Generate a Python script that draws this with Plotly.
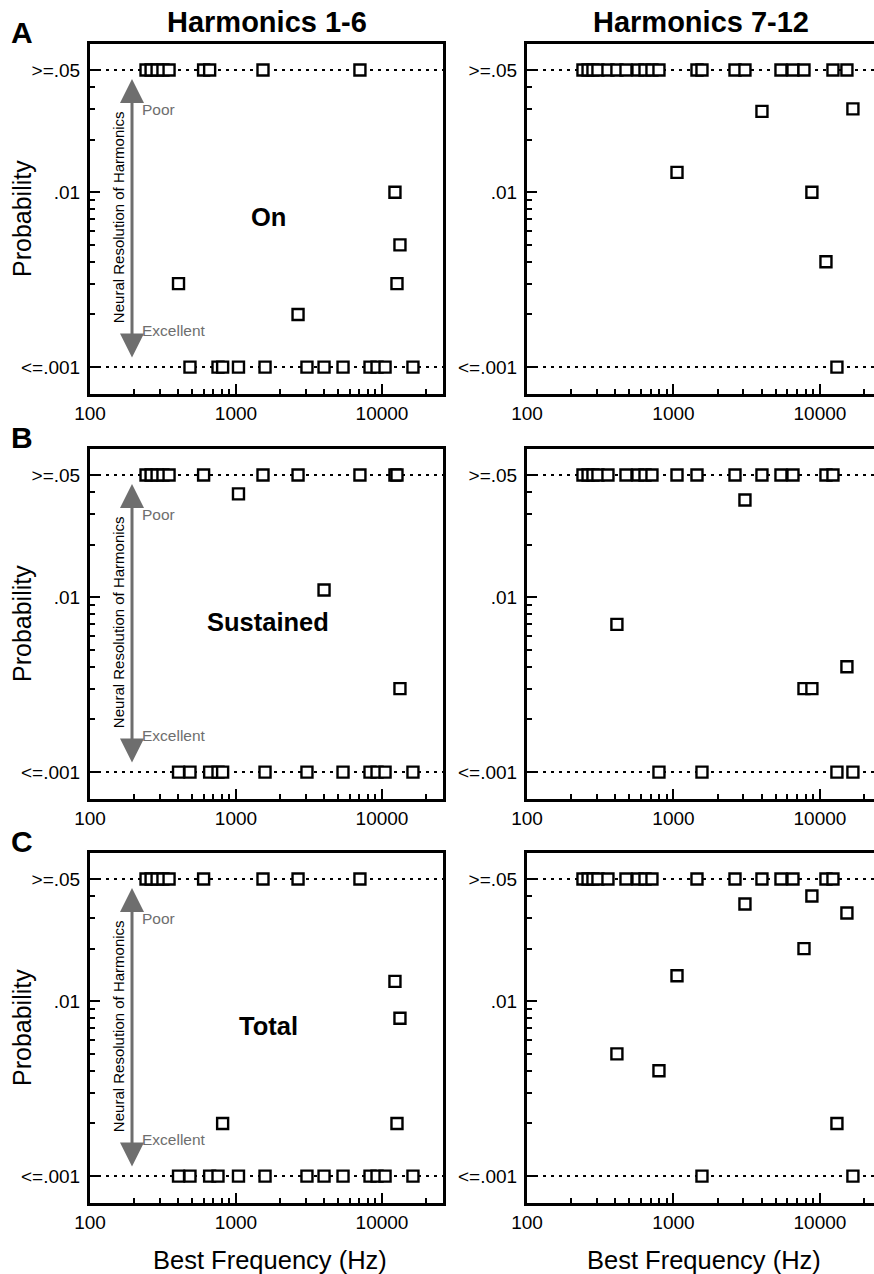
import plotly.graph_objects as go

# ---------------- data ----------------
# Best frequencies (Hz) of the neurons plotted in the "Harmonics 1-6" column
bf_h1_6 = [242, 262, 288, 316, 348, 404, 484, 600, 660, 753, 810, 1040, 1531, 1581,
           2661, 3063, 4010, 5409, 7063, 8279, 9249, 10496, 12270, 12670, 13280, 16300]
on_h1_6 = [.05, .05, .05, .05, .05, .003, .001, .05, .05, .001, .001, .001, .05, .001,
           .002, .001, .001, .001, .05, .001, .001, .001, .01, .003, .005, .001]
sus_h1_6 = [.05, .05, .05, .05, .05, .001, .001, .05, .001, .001, .001, .039, .05, .001,
            .05, .001, .011, .001, .05, .001, .001, .001, .05, .05, .003, .001]
tot_h1_6 = [.05, .05, .05, .05, .05, .001, .001, .05, .001, .001, .002, .001, .05, .001,
            .05, .001, .001, .001, .05, .001, .001, .001, .013, .002, .008, .001]

# Best frequencies (Hz) of the neurons plotted in the "Harmonics 7-12" column
bf_h7_12 = [241, 261, 282, 305, 357, 411, 474, 572, 639, 713, 796, 1057, 1447, 1565,
            2630, 3076, 4018, 5418, 6543, 7780, 8810, 10990, 12270, 13060, 15280, 16790]
on_h7_12 = [.05, .05, .05, .05, .05, .05, .05, .05, .05, .05, .05, .013, .05, .05,
            .05, .05, .029, .05, .05, .05, .01, .004, .05, .001, .05, .030]
sus_h7_12 = [.05, .05, .05, .05, .05, .007, .05, .05, .05, .05, .001, .05, .05, .001,
             .05, .036, .05, .05, .05, .003, .003, .05, .05, .001, .004, .001]
tot_h7_12 = [.05, .05, .05, .05, .05, .005, .05, .05, .05, .05, .004, .014, .05, .001,
             .05, .036, .05, .05, .05, .020, .040, .05, .05, .002, .032, .001]

col_titles = ["Harmonics 1-6", "Harmonics 7-12"]
row_letters = ["A", "B", "C"]
row_labels = ["On", "Sustained", "Total"]
p_levels = [0.05, 0.001]
y_tickvals = [0.05, 0.01, 0.001]
y_ticktext = [">=.05", ".01", "<=.001"]
y_minor = [0.04, 0.03, 0.02, 0.009, 0.008, 0.007, 0.006, 0.005, 0.004, 0.003, 0.002]
x_tickvals = [100, 1000, 10000]
x_ticktext = ["100", "1000", "10000"]
x_minor = [200, 300, 400, 500, 600, 700, 800, 900,
           2000, 3000, 4000, 5000, 6000, 7000, 8000, 9000, 20000]

# ---------------- layout geometry ----------------
W, H = 874, 1274
FONT = "Liberation Sans, Arial, Helvetica, sans-serif"
col_px = [(90, 443), (527, 874)]
row_px = [(44, 394), (449, 799), (853, 1203)]
x_ranges = [[2.0, 4.418], [2.0, 4.369]]
y_range = [-3.154, -1.152]
GRAY = "#6e6e6e"

data = [[(bf_h1_6, on_h1_6), (bf_h7_12, on_h7_12)],
        [(bf_h1_6, sus_h1_6), (bf_h7_12, sus_h7_12)],
        [(bf_h1_6, tot_h1_6), (bf_h7_12, tot_h7_12)]]

fig = go.Figure()
annotations = []
layout_axes = {}

for r in range(3):
    for c in range(2):
        n = r * 2 + c + 1
        xa = "x" if n == 1 else f"x{n}"
        ya = "y" if n == 1 else f"y{n}"
        bf, p = data[r][c]
        xr = x_ranges[c]
        # dotted reference lines at the two probability limits
        for lvl in p_levels:
            fig.add_trace(go.Scatter(
                x=[10 ** xr[0], 10 ** xr[1]], y=[lvl, lvl], mode="lines",
                line=dict(color="black", width=2, dash="3px,5px"),
                xaxis=xa, yaxis=ya, hoverinfo="skip", showlegend=False))
        fig.add_trace(go.Scatter(
            x=bf, y=p, mode="markers",
            marker=dict(symbol="square", size=11, color="white",
                        line=dict(color="black", width=2.4)),
            xaxis=xa, yaxis=ya, showlegend=False))

        x0, x1 = col_px[c]
        y0, y1 = row_px[r]
        layout_axes["xaxis" if n == 1 else f"xaxis{n}"] = dict(
            type="log", range=xr, domain=[x0 / W, x1 / W], anchor=ya,
            automargin=False,
            showline=True, linecolor="black", linewidth=3, mirror=True,
            ticks="inside", ticklen=10, tickwidth=2, tickcolor="black",
            tickmode="array", tickvals=x_tickvals, ticktext=x_ticktext,
            tickfont=dict(size=19, family=FONT, color="black"),
            showgrid=False, zeroline=False,
            minor=dict(tickmode="array", tickvals=x_minor, ticks="inside",
                       ticklen=5, tickwidth=2, tickcolor="black", showgrid=False))
        layout_axes["yaxis" if n == 1 else f"yaxis{n}"] = dict(
            type="log", range=y_range, domain=[1 - y1 / H, 1 - y0 / H], anchor=xa,
            automargin=False,
            showline=True, linecolor="black", linewidth=3, mirror=(c == 0),
            ticks="inside", ticklen=10, tickwidth=2, tickcolor="black",
            tickmode="array", tickvals=y_tickvals, ticktext=y_ticktext,
            tickfont=dict(size=19, family=FONT, color="black"),
            ticklabelstandoff=3,
            showgrid=False, zeroline=False,
            minor=dict(tickmode="array", tickvals=y_minor, ticks="inside",
                       ticklen=5, tickwidth=2, tickcolor="black", showgrid=False))

        if c == 0:
            # Probability axis title
            annotations.append(dict(
                xref="paper", yref=f"{ya} domain", x=22 / W, y=0.5,
                text="Probability", textangle=-90, showarrow=False,
                xanchor="center", yanchor="middle",
                font=dict(size=25, family=FONT, color="black")))
            # panel label (On / Sustained / Total)
            annotations.append(dict(
                xref=f"{xa} domain", yref=f"{ya} domain", x=0.505, y=0.505,
                text=f"<b>{row_labels[r]}</b>", showarrow=False,
                xanchor="center", yanchor="middle",
                font=dict(size=25.5, family=FONT, color="black")))
            # double-headed arrow
            annotations.append(dict(
                xref=f"{xa} domain", yref=f"{ya} domain", x=0.119, y=0.9,
                ax=0, ay=0.8 * (y1 - y0), axref="pixel", ayref="pixel",
                text="", showarrow=True, arrowhead=2, startarrowhead=2,
                arrowside="end+start", arrowsize=1.6, startarrowsize=1.6,
                arrowwidth=3, arrowcolor=GRAY, standoff=0, startstandoff=0))
            annotations.append(dict(
                xref=f"{xa} domain", yref=f"{ya} domain", x=0.079, y=0.505,
                text="Neural Resolution of Harmonics", textangle=-90,
                showarrow=False, xanchor="center", yanchor="middle",
                font=dict(size=15, family=FONT, color="black")))
            annotations.append(dict(
                xref=f"{xa} domain", yref=f"{ya} domain", x=0.141, y=0.812,
                text="Poor", showarrow=False, xanchor="left", yanchor="middle",
                font=dict(size=15.5, family=FONT, color=GRAY)))
            annotations.append(dict(
                xref=f"{xa} domain", yref=f"{ya} domain", x=0.143, y=0.182,
                text="Excellent", showarrow=False, xanchor="left", yanchor="middle",
                font=dict(size=15.5, family=FONT, color=GRAY)))
        if r == 0:
            annotations.append(dict(
                xref=f"{xa} domain", yref="paper", x=0.5, y=1 - 22 / H,
                text=f"<b>{col_titles[c]}</b>", showarrow=False,
                xanchor="center", yanchor="middle",
                font=dict(size=29, family=FONT, color="black")))
        if r == 2:
            annotations.append(dict(
                xref=f"{xa} domain", yref="paper", x=0.51, y=1 - 1260 / H,
                text="Best Frequency (Hz)", showarrow=False,
                xanchor="center", yanchor="middle",
                font=dict(size=25.5, family=FONT, color="black")))
        if c == 0:
            annotations.append(dict(
                xref="paper", yref="paper", x=22 / W,
                y=1 - [32, 437, 841][r] / H,
                text=f"<b>{row_letters[r]}</b>", showarrow=False,
                xanchor="center", yanchor="middle",
                font=dict(size=30, family=FONT, color="black")))

fig.update_layout(
    template="none",
    width=W, height=H, autosize=False,
    margin=dict(l=0, r=0, t=0, b=0, pad=0, autoexpand=False),
    paper_bgcolor="white", plot_bgcolor="white",
    font=dict(family=FONT, color="black"),
    showlegend=False,
    annotations=annotations,
    **layout_axes)

fig.write_html("out.html", config={"displayModeBar": False},
               post_script="document.body.style.margin='0';")
